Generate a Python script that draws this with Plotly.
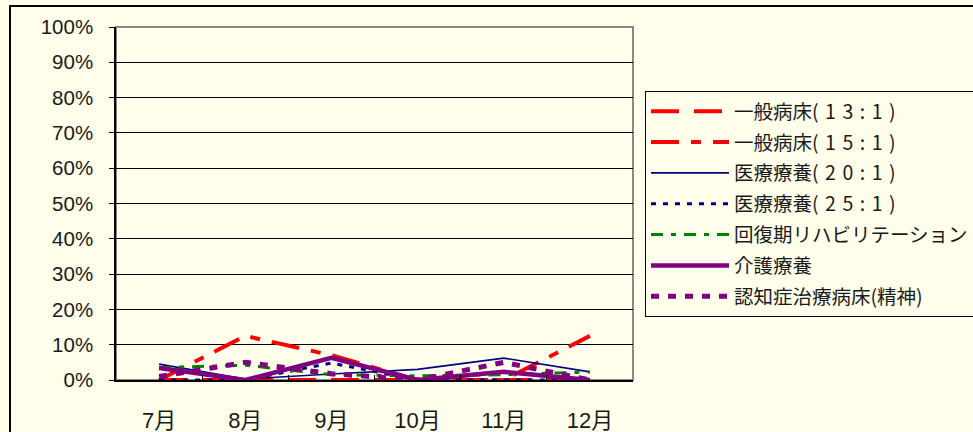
import plotly.graph_objects as go

# Monthly share by ward type (percent)
months = ["7月", "8月", "9月", "10月", "11月", "12月"]
ippan_13 = [0, 0, 0, 0, 0, 0]
ippan_15 = [0, 12.5, 7.0, 0, 0, 12.5]
iryo_20 = [4.5, 0.3, 1.7, 3.0, 6.2, 2.3]
iryo_25 = [0, 0, 4.8, 0, 0, 0]
kaifuku = [3.5, 4.2, 1.5, 1.2, 1.5, 2.3]
kaigo = [3.4, 0, 6.3, 0, 2.3, 0]
ninchi = [1.0, 5.0, 1.8, 0, 5.0, 0]

SP = "\u2004"  # spaced-out ratio text in the legend


def ratio(a, b):
    return "(" + SP + SP.join(f"{a}:{b}") + SP + ")"


series = [
    ("一般病床" + ratio(13, 1), ippan_13, "#FF0000", 4, "28px,15px"),
    ("一般病床" + ratio(15, 1), ippan_15, "#FF0000", 4, "28px,12px,10px,12px"),
    ("医療療養" + ratio(20, 1), iryo_20, "#000080", 1.6, "solid"),
    ("医療療養" + ratio(25, 1), iryo_25, "#000080", 3, "5px,7px"),
    ("回復期リハビリテーション", kaifuku, "#008000", 3, "12px,8px,5px,8px"),
    ("介護療養", kaigo, "#800080", 4.5, "solid"),
    ("認知症治療病床(精神)", ninchi, "#800080", 5, "8px,9px"),
]

BG = "#FFFFEC"
L, R, T, B = 116, 340, 27, 52
W, H = 973, 432
pw, ph = W - L - R, H - T - B

fig = go.Figure()
for i, (name, vals, color, width, dash) in enumerate(series):
    fig.add_trace(go.Scatter(
        x=months, y=vals, name=name, mode="lines", legendgroup=f"g{i}",
        line=dict(color=color, width=width, dash=dash),
    ))

# outer chart border (top and left edges visible)
fig.add_shape(type="rect", xref="paper", yref="paper",
              x0=(10 - L) / pw, x1=(W + 20 - L) / pw,
              y0=-(B + 20) / ph, y1=1 + (T - 6) / ph,
              line=dict(color="black", width=2), layer="below")
# plot area frame
fig.add_shape(type="rect", xref="paper", yref="paper", x0=0, x1=1, y0=0, y1=1,
              line=dict(color="#888888", width=2), layer="below")

fig.update_layout(
    width=W, height=H,
    margin=dict(l=L, r=R, t=T, b=B, autoexpand=False),
    paper_bgcolor=BG, plot_bgcolor=BG,
    font=dict(family="Liberation Sans, Arial, Noto Sans CJK JP", size=20, color="#1a1a1a"),
    showlegend=True,
    legend=dict(
        x=(645 - L) / pw, y=1 - (91 - T) / ph, xanchor="left", yanchor="top",
        bgcolor=BG, bordercolor="black", borderwidth=1,
        font=dict(family="Noto Sans CJK JP", size=19.5, color="#1a1a1a"),
        traceorder="grouped", tracegroupgap=2.5, itemwidth=78,
    ),
    xaxis=dict(
        type="category", range=[-0.5, 5.5], showgrid=False,
        showline=True, linecolor="black", linewidth=1.5,
        ticks="inside", ticklen=5, tickcolor="black", tickson="boundaries",
        ticklabelstandoff=20, tickfont=dict(size=22), fixedrange=True,
    ),
    yaxis=dict(
        range=[0, 100], dtick=10, ticksuffix="%",
        showgrid=True, gridcolor="black", gridwidth=1,
        showline=True, linecolor="black", linewidth=1.5,
        ticks="outside", ticklen=5, tickcolor="black",
        ticklabelstandoff=12, tickfont=dict(size=20.5),
        zeroline=False, fixedrange=True,
    ),
)

fig.write_html("out.html")
